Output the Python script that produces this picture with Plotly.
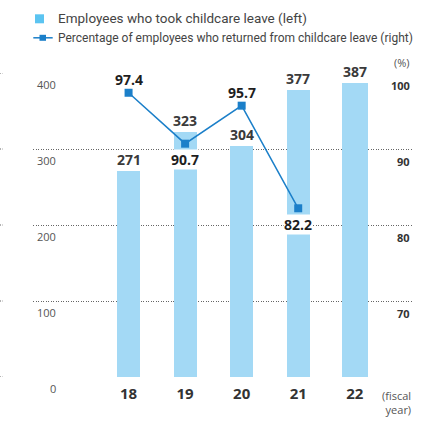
import plotly.graph_objects as go

# ---- data ----
years = ["18", "19", "20", "21", "22"]
leave_counts = [271, 323, 304, 377, 387]
return_years = ["18", "19", "20", "21"]
return_rates = [97.4, 90.7, 95.7, 82.2]
left_ticks = [0, 100, 200, 300, 400]
right_ticks = [70, 80, 90, 100]
bar_widths = [0.41, 0.41, 0.41, 0.41, 0.46]
label_above = [True, False, True, False]

legend_bar = "Employees who took childcare leave (left)"
legend_line = "Percentage of employees who returned from childcare leave (right)"

W, H = 427, 426
L, R, T, B = 33, 14, 72.7, 49.3
pw, ph = W - L - R, H - T - B

def px(x):
    return (x - L) / pw

def py(y):
    return (H - B - y) / ph

BAR_COLOR = "#a3d9f5"
LINE_COLOR = "#1b7fc9"
FONT = "Open Sans"
LFONT = "Roboto"

fig = go.Figure()
fig.add_trace(go.Bar(
    x=years, y=leave_counts, width=bar_widths,
    marker=dict(color=BAR_COLOR, line=dict(width=0)),
    showlegend=False, hoverinfo="skip",
))
fig.add_trace(go.Scatter(
    x=return_years, y=return_rates, yaxis="y2", mode="lines+markers",
    line=dict(color=LINE_COLOR, width=1.5),
    marker=dict(symbol="square", size=8, color=LINE_COLOR),
    showlegend=False, hoverinfo="skip",
))

ann = []
# bar value labels (category positions by index)
for i, v in enumerate(leave_counts):
    ann.append(dict(x=i, y=v, xref="x", yref="y", text=str(v), showarrow=False,
                    yanchor="bottom", yshift=0,
                    font=dict(family=FONT, size=14, color="#3a3a3a", weight=700)))
# line value labels
for i, (v, up) in enumerate(zip(return_rates, label_above)):
    ann.append(dict(x=i, y=v, xref="x", yref="y2", text=f"{v:.1f}", showarrow=False,
                    yanchor="middle", yshift=13 if up else -16,
                    bgcolor="white" if not up else "rgba(0,0,0,0)", borderpad=0,
                    font=dict(family=FONT, size=14, color="#1e1e1e", weight=700)))
# left tick labels (below gridlines)
for t in left_ticks:
    ann.append(dict(x=px(58), y=t, xref="paper", yref="y", text=str(t), showarrow=False,
                    xanchor="right", yanchor="middle", yshift=-11.5,
                    font=dict(family=FONT, size=11, color="#555555")))
# right tick labels
for t in right_ticks:
    ann.append(dict(x=px(412), y=t, xref="paper", yref="y2", text=str(t), showarrow=False,
                    xanchor="right", yanchor="middle", yshift=-12.5,
                    font=dict(family=FONT, size=11, color="#333333", weight=700)))
ann.append(dict(x=px(412), y=py(62.7), xref="paper", yref="paper", text="(%)", showarrow=False,
                xanchor="right", yanchor="middle",
                font=dict(family=FONT, size=11, color="#555555")))
ann.append(dict(x=px(412.5), y=py(402.5), xref="paper", yref="paper", text="(fiscal<br>year)",
                showarrow=False, xanchor="right", yanchor="middle", align="right",
                font=dict(family=FONT, size=11, color="#555555")))
# legend texts
ann.append(dict(x=px(56), y=py(18), xref="paper", yref="paper", text=legend_bar, showarrow=False,
                xanchor="left", yanchor="middle",
                font=dict(family=LFONT, size=13.5, color="#444444")))
ann.append(dict(x=px(56), y=py(37.3), xref="paper", yref="paper", text=legend_line, showarrow=False,
                xanchor="left", yanchor="middle",
                font=dict(family=LFONT, size=12, color="#444444")))

shapes = [
    dict(type="rect", xref="paper", yref="paper", x0=px(35), x1=px(44), y0=py(14), y1=py(23),
         fillcolor="#5bc4f1", line=dict(width=0)),
    dict(type="line", xref="paper", yref="paper", x0=px(33.3), x1=px(52.7), y0=py(37.5), y1=py(37.5),
         line=dict(color=LINE_COLOR, width=1.5)),
    dict(type="rect", xref="paper", yref="paper", x0=px(39.5), x1=px(46), y0=py(34.5), y1=py(40.5),
         fillcolor=LINE_COLOR, line=dict(width=0)),
]
# small cut-off gridline stubs at left edge
for t in left_ticks:
    shapes.append(dict(type="line", xref="paper", yref="y", x0=px(0), x1=px(3), y0=t, y1=t,
                       line=dict(color="#666666", width=1, dash="1px,1.5px")))

fig.update_layout(
    width=W, height=H,
    margin=dict(l=L, r=R, t=T, b=B, pad=0),
    paper_bgcolor="white", plot_bgcolor="white",
    bargap=0,
    xaxis=dict(type="category", range=[-1.69, 5.03], showgrid=False, zeroline=False,
               showline=False, ticks="", ticklabelstandoff=6,
               tickfont=dict(family=FONT, size=15, color="#333333", weight=700)),
    yaxis=dict(range=[0, 400], tickvals=left_ticks, showticklabels=False, showgrid=True,
               gridcolor="#666666", gridwidth=1, griddash="1px,1.5px", zeroline=False,
               showline=False, ticks=""),
    yaxis2=dict(range=[60, 100], overlaying="y", side="right", showgrid=False,
                showticklabels=False, zeroline=False, showline=False, ticks=""),
    annotations=ann, shapes=shapes,
    font=dict(family=FONT),
)

fig.write_html("out.html", config={"displayModeBar": False},
               post_script="document.body.style.margin='0';document.body.style.padding='0';")
